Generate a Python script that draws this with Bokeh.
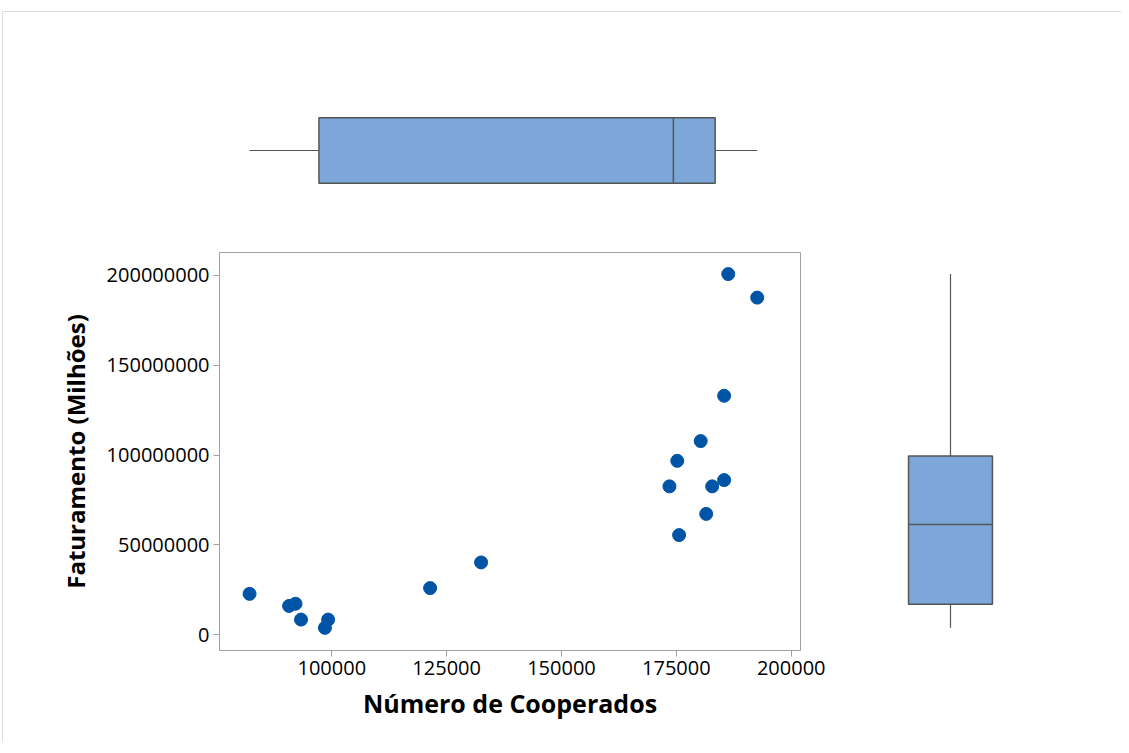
import numpy as np
from bokeh.plotting import figure
from bokeh.layouts import row, column
from bokeh.models import Range1d, FixedTicker, BasicTickFormatter, ColumnDataSource
from bokeh.embed import file_html
from bokeh.resources import INLINE

# ---- data ----
cooperados = [82100, 90700, 92100, 93300, 98500, 99200, 121400, 132500,
              173500, 175200, 175600, 180300, 181500, 182800, 185400,
              185400, 186300, 192600]
faturamento = [22.8e6, 16.1e6, 17.3e6, 8.5e6, 3.9e6, 8.5e6, 26.0e6, 40.3e6,
               82.6e6, 96.8e6, 55.5e6, 107.8e6, 67.3e6, 82.6e6, 86.1e6,
               133.0e6, 200.7e6, 187.6e6]
x_ticks = [100000, 125000, 150000, 175000, 200000]
y_ticks = [0, 50000000, 100000000, 150000000, 200000000]
x_title = "Número de Cooperados"
y_title = "Faturamento (Milhões)"

FONT = "Open Sans"
DOT = "#0054a6"
BOX_FILL = "#7da7d9"
BOX_LINE = "#555555"
FRAME = "#a0a0a0"


def box_stats(v):
    v = np.asarray(v, dtype=float)
    q1, med, q3 = np.percentile(v, [25, 50, 75], method="weibull")
    iqr = q3 - q1
    lo = v[v >= q1 - 1.5 * iqr].min()
    hi = v[v <= q3 + 1.5 * iqr].max()
    return lo, q1, med, q3, hi


x_range = Range1d(75555, 202024)
y_range = Range1d(-8.7e6, 212.7e6)

# ---- scatter ----
p = figure(width=833, height=511, x_range=x_range, y_range=y_range,
           output_backend="svg", toolbar_location=None,
           min_border_left=216, min_border_right=36,
           min_border_top=22, min_border_bottom=91)
p.scatter(x="x", y="y", source=ColumnDataSource(dict(x=cooperados, y=faturamento)),
          size=13, fill_color=DOT, line_color=DOT)
p.grid.visible = False
p.outline_line_color = FRAME
p.outline_line_width = 1
p.background_fill_color = "white"
p.border_fill_color = "white"

p.xaxis.ticker = FixedTicker(ticks=x_ticks)
p.yaxis.ticker = FixedTicker(ticks=y_ticks)
p.yaxis.formatter = BasicTickFormatter(use_scientific=False)
p.xaxis.formatter = BasicTickFormatter(use_scientific=False)
for ax in (p.xaxis[0], p.yaxis[0]):
    ax.axis_line_color = FRAME
    ax.major_tick_line_color = FRAME
    ax.major_tick_out = 6
    ax.major_tick_in = 0
    ax.minor_tick_line_color = None
    ax.major_label_text_font = FONT
    ax.major_label_text_font_size = "20px"
    ax.major_label_text_font_style = "normal"
    ax.major_label_text_color = "#000000"
    ax.major_label_standoff = 4
    ax.axis_label_text_font = FONT
    ax.axis_label_text_font_style = "bold"
    ax.axis_label_text_color = "#000000"
p.xaxis.axis_label = x_title
p.yaxis.axis_label = y_title
p.xaxis.axis_label_text_font_size = "25px"
p.yaxis.axis_label_text_font_size = "24px"
p.xaxis.axis_label_standoff = 8
p.yaxis.axis_label_standoff = 12

# ---- top box plot (x variable) ----
lo, q1, med, q3, hi = box_stats(cooperados)
t = figure(width=833, height=218, x_range=x_range, y_range=Range1d(-1, 1),
           output_backend="svg", toolbar_location=None,
           x_axis_location=None, y_axis_location=None,
           min_border_left=216, min_border_right=36,
           min_border_top=58, min_border_bottom=0)
t.grid.visible = False
t.outline_line_color = None
hb = 0.41
t.segment(x0=[lo, q3], y0=[0, 0], x1=[q1, hi], y1=[0, 0],
          line_color=BOX_LINE, line_width=1.2)
t.quad(left=[q1], right=[q3], bottom=[-hb], top=[hb],
       fill_color=BOX_FILL, line_color=BOX_LINE, line_width=1.5)
t.segment(x0=[med], y0=[-hb], x1=[med], y1=[hb], line_color=BOX_LINE, line_width=1.5)

# ---- right box plot (y variable) ----
lo, q1, med, q3, hi = box_stats(faturamento)
r = figure(width=285, height=729, x_range=Range1d(-1, 1), y_range=y_range,
           output_backend="svg", toolbar_location=None,
           x_axis_location=None, y_axis_location=None,
           min_border_left=0, min_border_right=57,
           min_border_top=240, min_border_bottom=91)
r.grid.visible = False
r.outline_line_color = None
hw = 0.368
r.segment(x0=[0, 0], y0=[lo, q3], x1=[0, 0], y1=[q1, hi],
          line_color=BOX_LINE, line_width=1.2)
r.quad(left=[-hw], right=[hw], bottom=[q1], top=[q3],
       fill_color=BOX_FILL, line_color=BOX_LINE, line_width=1.5)
r.segment(x0=[-hw], y0=[med], x1=[hw], y1=[med], line_color=BOX_LINE, line_width=1.5)

layout = row(column(t, p), r,
             styles={"border-top": "1px solid #dcdcdc", "border-left": "1px solid #dcdcdc",
                     "margin-left": "2px", "margin-top": "11px"})

open("out.html", "w").write(file_html(layout, INLINE))
